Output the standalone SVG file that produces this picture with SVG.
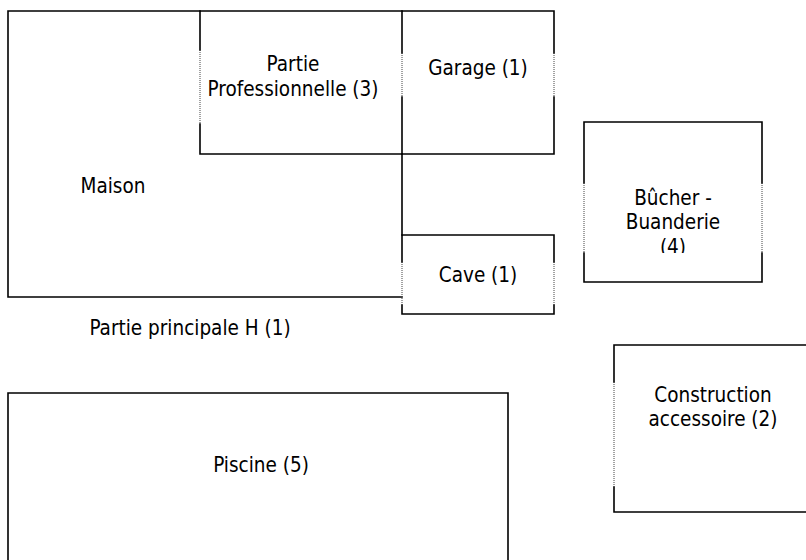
<svg xmlns="http://www.w3.org/2000/svg" width="806" height="560" viewBox="0 0 806 560">
<style>
.w{stroke:#000;stroke-width:1.6;fill:none;stroke-linecap:square}
.d{stroke:#444;stroke-width:1;stroke-dasharray:1 1;fill:none}
.t{font-family:"DejaVu Sans Condensed","DejaVu Sans",sans-serif;font-stretch:condensed;font-size:20.5px;fill:#000;text-anchor:middle}
</style>
<defs>
<clipPath id="cb"><rect x="584" y="122" width="178" height="131"/></clipPath>
</defs>
<rect width="806" height="560" fill="#fff"/>
<g id="maison">
<path class="w" d="M8 11H200M8 11V297H402M402 154V235"/>
<text class="t" x="113" y="193">Maison</text>
</g>
<g id="partie-pro">
<path class="w" d="M200 11H402M200 11V50M200 124V154H402"/>
<path class="d" d="M200 50V124"/>
<text class="t" x="293" y="71">Partie</text>
<text class="t" x="293" y="96">Professionnelle (3)</text>
</g>
<g id="garage">
<path class="w" d="M402 11H554V53M554 97V154H402M402 11V53M402 97V154"/>
<path class="d" d="M402 53V97M554 53V97"/>
<text class="t" x="478" y="75">Garage (1)</text>
</g>
<g id="cave">
<path class="w" d="M402 235H554V262M554 305V314H402V305M402 235V262"/>
<path class="d" d="M402 262V305M554 262V305"/>
<text class="t" x="478" y="282">Cave (1)</text>
</g>
<g id="bucher">
<path class="w" d="M584 122H762V183M762 253V282H584V253M584 122V183"/>
<path class="d" d="M584 183V253M762 183V253"/>
<g clip-path="url(#cb)">
<text class="t" x="673" y="205">Bûcher -</text>
<text class="t" x="673" y="229">Buanderie</text>
<text class="t" x="673" y="254">(4)</text>
</g>
</g>
<g id="partie-principale">
<text class="t" x="190" y="335">Partie principale H (1)</text>
</g>
<g id="construction">
<path class="w" d="M820 345H614V382M614 487V512H820"/>
<path class="d" d="M614 382V487"/>
<text class="t" x="713" y="402">Construction</text>
<text class="t" x="713" y="426">accessoire (2)</text>
</g>
<g id="piscine">
<path class="w" d="M8 570V393H508V570"/>
<text class="t" x="261" y="472">Piscine (5)</text>
</g>
</svg>
